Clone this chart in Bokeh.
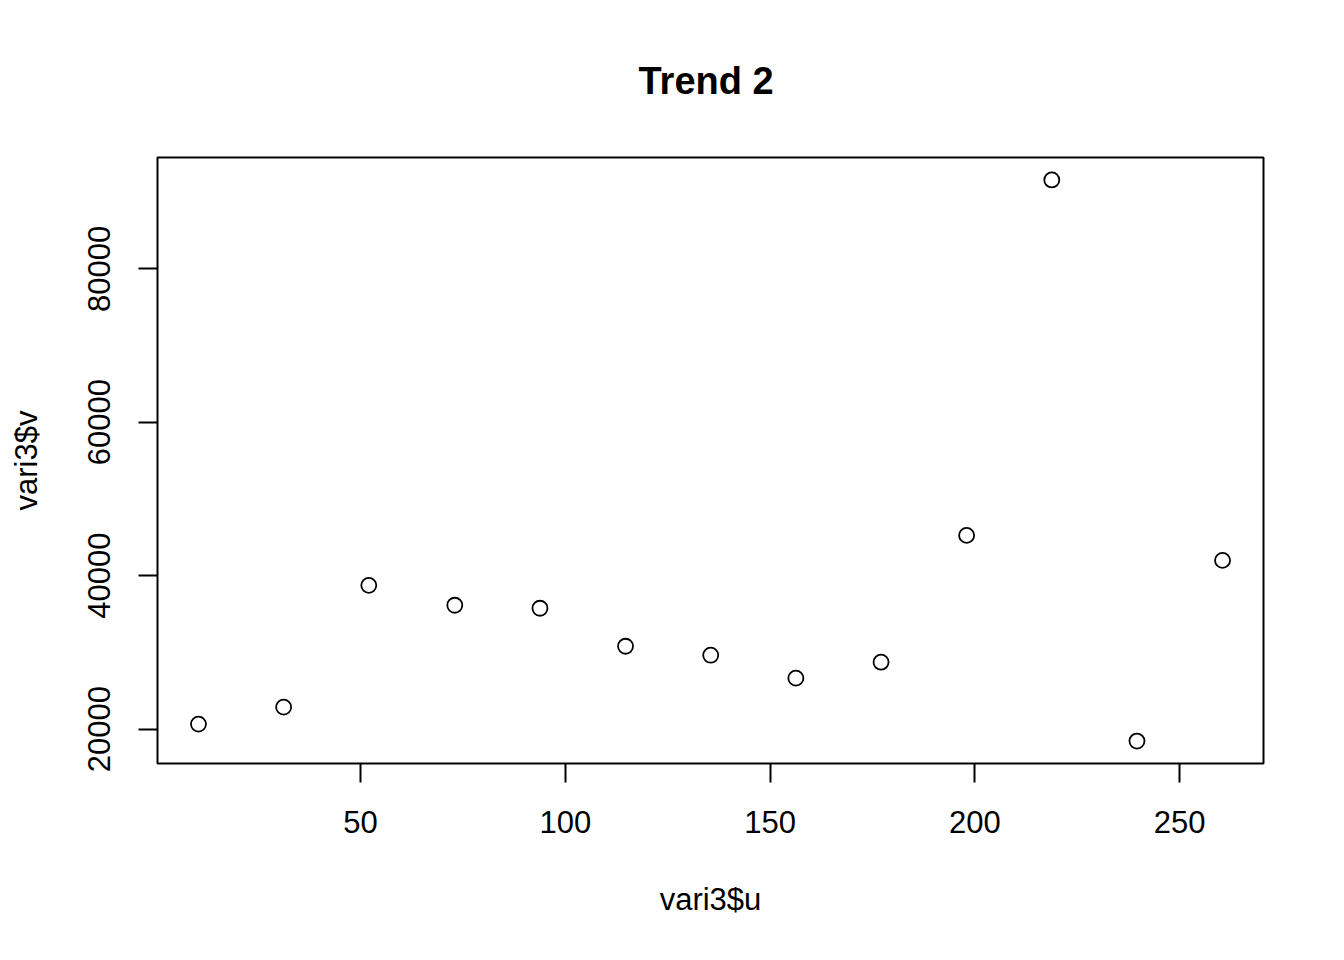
from bokeh.plotting import figure
from bokeh.models import Range1d, FixedTicker, BasicTickFormatter
from bokeh.embed import file_html
from bokeh.resources import INLINE

# data
u_vals = [10.4, 31.2, 52.0, 73.0, 93.8, 114.7, 135.5, 156.3, 177.1, 198.0, 218.8, 239.6, 260.5]
v_vals = [20650, 22860, 38740, 36140, 35750, 30800, 29630, 26640, 28720, 45250, 91580, 18440, 41990]
x_ticks = [50, 100, 150, 200, 250]
y_ticks = [20000, 40000, 60000, 80000]
title_text = "Trend 2"
x_label = "vari3$u"
y_label = "vari3$v"

def padded(vals, frac=0.04):
    lo, hi = min(vals), max(vals)
    d = (hi - lo) * frac
    return lo - d, hi + d

x0, x1 = padded(u_vals)
y0, y1 = padded(v_vals)

FONT = "Liberation Sans"

p = figure(width=1336, height=952, output_backend="svg", toolbar_location=None,
           x_range=Range1d(x0, x1), y_range=Range1d(y0, y1),
           min_border_left=157, min_border_right=73, min_border_top=157, min_border_bottom=189,
           title=title_text)
p.background_fill_color = "white"
p.border_fill_color = "white"
p.outline_line_color = "black"
p.outline_line_width = 2
p.grid.visible = False

p.title.text_font = FONT
p.title.text_font_size = "38px"
p.title.text_font_style = "bold"
p.title.align = "left"
p.title.offset = 481
p.title.text_color = "black"
p.title.standoff = 112

for ax, ticks in ((p.xaxis[0], x_ticks), (p.yaxis[0], y_ticks)):
    ax.ticker = FixedTicker(ticks=ticks)
    ax.formatter = BasicTickFormatter(use_scientific=False)
    ax.axis_line_color = None
    ax.major_tick_line_color = "black"
    ax.major_tick_line_width = 2
    ax.major_tick_in = 0
    ax.major_tick_out = 19
    ax.minor_tick_line_color = None
    ax.major_label_text_font = FONT
    ax.major_label_text_font_size = "31px"
    ax.major_label_text_color = "black"
    ax.axis_label_text_font = FONT
    ax.axis_label_text_font_size = "31px"
    ax.axis_label_text_font_style = "normal"
    ax.axis_label_text_color = "black"

p.xaxis[0].axis_label = x_label
p.yaxis[0].axis_label = y_label
p.xaxis[0].major_label_standoff = 28
p.xaxis[0].axis_label_standoff = 46
p.yaxis[0].major_label_orientation = "vertical"
p.yaxis[0].major_label_standoff = 28
p.yaxis[0].axis_label_standoff = 42

p.scatter(u_vals, v_vals, marker="circle", size=15, fill_color=None,
          line_color="black", line_width=1.8)

open("out.html", "w").write(file_html(p, INLINE))
